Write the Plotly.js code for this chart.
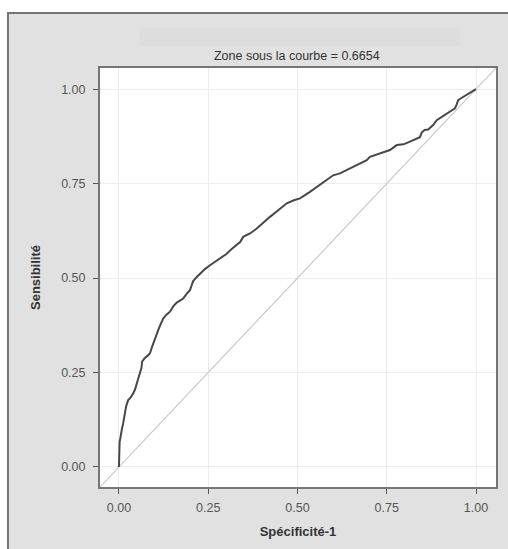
<!DOCTYPE html>
<html>
<head>
<meta charset="utf-8">
<script src="https://cdn.plot.ly/plotly-3.0.1.min.js"></script>
<style>
  html, body { margin: 0; padding: 0; background: #ffffff; width: 508px; height: 549px; overflow: hidden; }
  #frame { position: absolute; left: 7px; top: 12px; width: 501px; height: 537px;
           border-top: 2px solid #747474; border-left: 2px solid #747474; box-sizing: border-box; }
  #chart { width: 499px; height: 535px; }
</style>
</head>
<body>
<div id="frame"><div id="chart"></div></div>
<script>
// ROC curve: 1 - specificity (x) vs sensitivity (y)
const fpr = [0.000, 0.000, 0.002, 0.003, 0.006, 0.009, 0.012, 0.015, 0.017, 0.020, 0.026, 0.033, 0.040, 0.045, 0.050, 0.055, 0.059, 0.063, 0.065, 0.072, 0.080, 0.087, 0.092, 0.096, 0.103, 0.110, 0.117, 0.124, 0.133, 0.143, 0.152, 0.162, 0.172, 0.180, 0.190, 0.199, 0.204, 0.208, 0.218, 0.227, 0.240, 0.255, 0.268, 0.283, 0.300, 0.315, 0.330, 0.340, 0.348, 0.367, 0.386, 0.405, 0.423, 0.447, 0.470, 0.490, 0.507, 0.535, 0.554, 0.580, 0.600, 0.619, 0.647, 0.672, 0.694, 0.703, 0.730, 0.759, 0.778, 0.797, 0.815, 0.834, 0.843, 0.848, 0.856, 0.866, 0.880, 0.890, 0.905, 0.918, 0.927, 0.936, 0.941, 0.946, 0.950, 0.958, 0.965, 0.974, 0.987, 1.000];
const tpr = [0.000, 0.063, 0.068, 0.071, 0.095, 0.104, 0.116, 0.138, 0.151, 0.160, 0.177, 0.184, 0.195, 0.205, 0.221, 0.236, 0.248, 0.262, 0.279, 0.288, 0.294, 0.301, 0.316, 0.327, 0.343, 0.362, 0.378, 0.393, 0.403, 0.411, 0.425, 0.435, 0.441, 0.446, 0.459, 0.468, 0.482, 0.492, 0.503, 0.512, 0.523, 0.534, 0.543, 0.552, 0.563, 0.576, 0.587, 0.596, 0.609, 0.618, 0.631, 0.648, 0.662, 0.680, 0.698, 0.706, 0.711, 0.728, 0.741, 0.758, 0.772, 0.777, 0.790, 0.801, 0.812, 0.821, 0.830, 0.839, 0.852, 0.854, 0.861, 0.868, 0.873, 0.885, 0.892, 0.893, 0.905, 0.918, 0.927, 0.936, 0.940, 0.947, 0.949, 0.960, 0.971, 0.976, 0.980, 0.984, 0.992, 1.000];
const diagX = [-0.053, 1.056];
const diagY = [-0.053, 1.056];
const tickVals = [0, 0.25, 0.5, 0.75, 1];
const tickText = ["0.00", "0.25", "0.50", "0.75", "1.00"];
const titleText = "Zone sous la courbe = 0.6654";
const xTitle = "Spécificité-1";
const yTitle = "Sensibilité";

const FONT = "Liberation Sans, Arial, sans-serif";

const traces = [
  { x: diagX, y: diagY, mode: "lines", type: "scatter",
    line: { color: "#c9c9c9", width: 1.2 }, hoverinfo: "skip", showlegend: false },
  { x: fpr, y: tpr, mode: "lines", type: "scatter",
    line: { color: "#474747", width: 2 }, showlegend: false }
];

const axisCommon = {
  range: [-0.053, 1.056],
  tickvals: tickVals, ticktext: tickText,
  ticks: "outside", ticklen: 5, tickwidth: 1, tickcolor: "#555555",
  showgrid: true, gridcolor: "#ececec", gridwidth: 1,
  zeroline: false,
  showline: true, linecolor: "#767676", linewidth: 2, mirror: true,
  tickfont: { family: FONT, size: 12.5, color: "#555555" },
  automargin: false,
  fixedrange: true
};

const layout = {
  width: 499, height: 535,
  paper_bgcolor: "#e1e1e1",
  plot_bgcolor: "#ffffff",
  margin: { l: 91, r: 12, t: 54, b: 62 },
  title: { text: titleText, x: 0.497, xref: "paper", y: 0.923, yref: "container",
           xanchor: "center", yanchor: "middle",
           font: { family: FONT, size: 12.5, color: "#333333" } },
  xaxis: Object.assign({}, axisCommon, {
    ticklabelstandoff: 3,
    title: { text: "<b>" + xTitle + "</b>", standoff: 13,
             font: { family: FONT, size: 13, color: "#333333" } }
  }),
  yaxis: Object.assign({}, axisCommon, {
    ticklabelstandoff: 5,
    title: { text: "<b>" + yTitle + "</b>", standoff: 18,
             font: { family: FONT, size: 13, color: "#333333" } }
  }),
  shapes: [
    { type: "rect", xref: "paper", yref: "paper", x0: 0.10, x1: 0.91, y0: 1.052, y1: 1.095,
      fillcolor: "#dddddd", line: { width: 0 }, layer: "below" }
  ]
};

Plotly.newPlot("chart", traces, layout, { staticPlot: true, displayModeBar: false });
</script>
</body>
</html>
